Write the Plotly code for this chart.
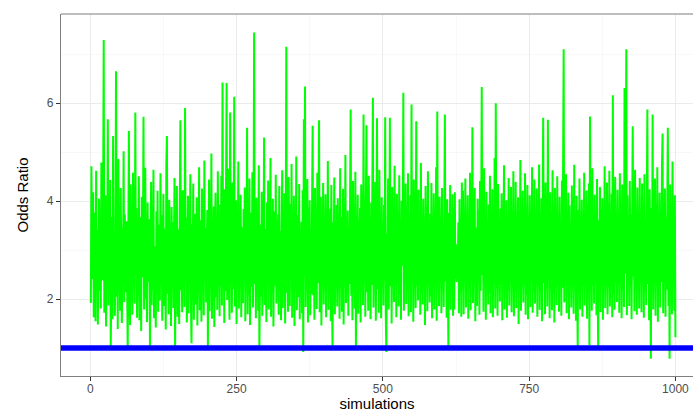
import plotly.graph_objects as go

odds_ratio_rows = [
    [1.92, 4.71, 3.05, 2.41, 4.18, 1.63, 3.77, 2.86, 1.55, 4.62, 2.24, 3.41, 1.48, 2.93, 4.05, 2.17, 3.62, 1.81, 4.79, 2.55],
    [2.38, 3.84, 7.29, 1.72, 2.96, 4.12, 1.44, 3.27, 2.63, 5.67, 1.87, 3.55, 2.21, 4.43, 0.98, 2.79, 3.68, 1.59, 5.33, 2.47],
    [3.12, 1.66, 2.84, 6.65, 2.05, 3.91, 1.39, 4.86, 2.52, 3.18, 1.76, 4.27, 2.69, 1.51, 3.46, 2.31, 5.02, 1.94, 3.73, 2.58],
    [2.14, 3.59, 1.83, 0.98, 3.02, 5.43, 2.36, 1.47, 4.34, 2.75, 3.38, 1.68, 4.58, 2.27, 3.14, 1.91, 5.81, 2.49, 3.86, 1.62],
    [3.25, 2.08, 4.51, 1.57, 2.88, 3.67, 1.35, 4.09, 2.44, 3.22, 5.72, 1.79, 2.67, 4.68, 2.01, 3.49, 1.53, 3.97, 2.35, 2.91],
    [3.63, 1.04, 2.73, 4.39, 1.88, 3.31, 2.19, 4.64, 1.61, 3.08, 2.56, 1.42, 3.79, 2.42, 4.21, 1.74, 2.98, 3.52, 1.97, 4.57],
    [2.29, 3.71, 1.56, 2.82, 4.15, 1.86, 3.44, 2.61, 1.38, 4.74, 5.33, 2.11, 3.36, 1.69, 4.03, 2.53, 3.17, 1.45, 3.88, 2.34],
    [3.57, 1.82, 2.71, 4.47, 0.99, 3.09, 2.26, 4.31, 1.64, 3.42, 2.57, 1.49, 3.95, 5.65, 2.18, 3.28, 1.73, 4.22, 2.45, 3.01],
    [1.84, 5.90, 2.39, 3.66, 1.52, 2.94, 4.11, 1.71, 3.24, 2.48, 4.55, 1.96, 1.10, 3.53, 2.22, 4.36, 1.58, 2.87, 3.74, 1.89],
    [2.64, 4.08, 1.46, 3.35, 2.15, 4.69, 1.77, 2.99, 3.61, 1.54, 4.26, 2.37, 3.13, 1.67, 4.83, 2.51, 3.45, 1.93, 2.76, 3.82],
    [1.03, 2.68, 4.44, 1.75, 3.19, 2.32, 4.97, 1.60, 3.48, 2.12, 3.89, 1.43, 2.85, 4.17, 2.03, 3.56, 1.78, 4.61, 2.43, 3.26],
    [1.65, 3.93, 2.28, 4.52, 1.87, 6.42, 2.59, 3.37, 1.51, 4.24, 2.16, 3.72, 6.41, 1.98, 3.04, 4.66, 2.47, 1.58, 5.81, 2.83],
    [3.51, 1.72, 4.38, 2.21, 3.15, 6.13, 1.85, 2.97, 4.02, 1.49, 3.64, 2.54, 4.81, 1.81, 3.29, 2.36, 4.13, 1.63, 3.47, 2.66],
    [1.92, 3.84, 2.44, 4.28, 1.55, 3.21, 2.73, 5.50, 1.69, 3.58, 2.09, 4.46, 1.47, 2.91, 3.76, 2.25, 4.59, 1.83, 3.11, 7.44],
    [2.31, 3.68, 1.61, 4.07, 2.57, 3.34, 1.76, 4.73, 0.96, 2.89, 3.52, 2.05, 4.19, 1.66, 3.06, 2.48, 5.30, 1.88, 3.43, 2.62],
    [1.53, 3.97, 2.34, 4.42, 1.79, 3.27, 2.71, 4.88, 1.64, 3.61, 2.18, 4.05, 1.44, 2.95, 3.79, 2.27, 4.54, 1.91, 3.18, 2.49],
    [3.73, 1.68, 4.31, 2.23, 3.39, 1.57, 2.92, 4.63, 1.82, 3.55, 2.41, 4.16, 1.50, 3.08, 7.15, 2.13, 3.66, 1.74, 4.49, 2.58],
    [1.86, 3.94, 2.37, 4.76, 1.62, 3.23, 2.69, 4.11, 1.45, 3.47, 2.19, 4.91, 1.77, 2.86, 3.71, 2.04, 4.35, 1.59, 3.32, 2.53],
    [3.58, 1.71, 4.22, 0.92, 5.67, 2.46, 6.34, 1.84, 3.14, 2.63, 4.45, 1.52, 3.87, 2.29, 4.02, 1.67, 3.36, 2.11, 4.71, 5.54],
    [2.08, 3.75, 1.58, 4.27, 2.42, 3.19, 1.80, 4.58, 2.33, 3.49, 5.65, 1.73, 2.94, 4.09, 1.46, 3.62, 2.55, 4.37, 1.89, 3.04],
    [2.61, 4.14, 1.63, 3.41, 2.27, 4.82, 1.78, 3.09, 2.49, 3.85, 1.55, 4.33, 2.17, 1.03, 3.57, 2.72, 4.48, 1.69, 3.24, 2.39],
    [3.92, 1.85, 4.06, 2.52, 3.31, 1.60, 4.67, 2.24, 3.68, 1.74, 2.97, 4.25, 1.48, 3.53, 2.36, 4.94, 1.92, 3.16, 2.58, 3.81],
    [1.66, 3.44, 2.31, 4.19, 5.87, 2.07, 3.73, 1.57, 4.41, 2.45, 3.27, 1.81, 4.60, 1.02, 3.02, 2.64, 4.13, 1.70, 3.59, 2.22],
    [3.86, 1.52, 4.34, 2.56, 3.11, 1.88, 5.77, 2.35, 3.65, 1.64, 4.03, 5.55, 2.14, 3.38, 1.76, 4.52, 2.47, 3.21, 1.59, 3.97],
    [2.29, 4.21, 6.11, 1.83, 3.47, 2.66, 4.39, 1.56, 3.13, 5.69, 2.20, 3.78, 1.72, 4.64, 2.41, 3.29, 1.61, 4.08, 2.53, 3.55],
    [1.87, 3.92, 2.38, 5.71, 1.67, 0.92, 3.34, 2.74, 4.46, 1.79, 3.06, 5.70, 2.26, 3.63, 1.50, 4.29, 2.60, 3.18, 1.94, 4.72],
    [2.43, 3.51, 1.63, 4.15, 2.32, 3.77, 1.85, 4.53, 2.11, 3.39, 1.58, 4.01, 2.68, 3.24, 6.21, 1.76, 3.69, 2.48, 4.36, 1.90],
    [3.27, 2.19, 4.57, 1.65, 3.58, 2.51, 4.12, 1.73, 5.97, 2.34, 3.83, 1.54, 4.44, 2.62, 3.16, 1.82, 5.63, 2.28, 3.71, 1.97],
    [4.23, 2.45, 3.49, 1.68, 4.78, 2.13, 3.35, 1.89, 4.05, 2.57, 3.62, 1.47, 4.31, 2.24, 3.88, 1.75, 4.61, 2.39, 3.12, 1.93],
    [3.74, 2.06, 4.37, 1.61, 3.43, 2.67, 4.16, 1.79, 3.57, 2.30, 4.69, 1.56, 5.83, 2.42, 3.28, 1.86, 4.09, 2.55, 3.66, 1.71],
    [4.27, 2.18, 3.52, 1.84, 4.48, 5.77, 2.36, 3.19, 1.62, 4.04, 2.59, 0.98, 3.76, 2.23, 4.33, 1.78, 3.41, 2.47, 4.14, 1.66],
    [3.86, 1.79, 4.18, 2.41, 3.12, 2.35, 2.97, 2.52, 3.57, 1.71, 4.04, 2.13, 3.65, 1.64, 4.38, 2.22, 4.21, 1.69, 3.83, 2.38],
    [4.46, 1.83, 3.29, 2.54, 4.12, 1.60, 3.67, 2.21, 4.58, 1.77, 3.38, 2.44, 5.51, 1.92, 3.71, 2.31, 4.27, 1.55, 3.46, 2.63],
    [1.86, 4.05, 2.37, 3.81, 1.68, 4.41, 2.17, 3.53, 6.33, 2.49, 3.22, 1.74, 4.67, 2.28, 3.64, 1.58, 4.19, 2.56, 3.37, 1.89],
    [3.93, 2.12, 4.52, 1.71, 3.31, 2.45, 4.24, 1.63, 3.75, 2.34, 4.88, 1.81, 6.00, 2.22, 3.48, 1.66, 4.35, 2.59, 3.14, 1.95],
    [3.85, 2.27, 4.16, 1.57, 3.44, 2.68, 4.73, 1.79, 3.26, 2.41, 4.02, 1.62, 3.69, 2.19, 4.47, 1.87, 3.58, 2.50, 4.29, 1.73],
    [3.18, 2.36, 4.61, 1.65, 3.77, 2.14, 4.39, 1.82, 3.51, 2.57, 4.08, 1.49, 3.34, 2.43, 4.84, 1.76, 3.62, 2.25, 4.21, 1.93],
    [3.46, 2.31, 4.57, 1.68, 3.89, 2.09, 4.33, 1.59, 3.27, 2.63, 4.12, 1.84, 3.71, 2.38, 4.69, 1.72, 3.55, 2.16, 4.44, 1.91],
    [3.39, 2.52, 4.26, 1.64, 3.82, 2.27, 4.75, 1.78, 3.15, 2.46, 4.06, 1.55, 3.67, 5.70, 2.33, 3.94, 1.69, 4.38, 2.21, 3.58],
    [1.85, 5.66, 2.40, 3.73, 1.61, 4.18, 2.54, 3.31, 1.77, 4.63, 2.12, 3.86, 1.52, 4.27, 2.65, 3.42, 1.88, 4.51, 2.29, 3.64],
    [1.74, 4.09, 2.36, 3.57, 1.66, 4.42, 2.23, 3.79, 7.10, 1.93, 3.35, 2.58, 4.55, 1.71, 3.68, 2.44, 4.17, 1.59, 3.91, 2.30],
    [3.46, 1.83, 4.32, 2.61, 3.24, 1.70, 4.74, 2.18, 3.63, 1.56, 4.11, 2.47, 1.02, 3.82, 2.35, 4.46, 1.79, 3.38, 2.66, 4.03],
    [1.64, 3.71, 2.26, 4.58, 1.87, 3.49, 2.42, 4.21, 1.60, 3.95, 2.14, 4.36, 1.06, 5.73, 2.51, 3.33, 1.76, 4.67, 2.28, 3.59],
    [1.91, 4.13, 2.55, 3.77, 1.67, 4.45, 2.20, 0.98, 3.61, 2.39, 4.29, 1.73, 3.84, 2.63, 4.06, 1.58, 3.52, 2.32, 4.71, 1.82],
    [3.43, 2.47, 4.38, 1.69, 3.96, 2.24, 4.62, 1.85, 3.28, 2.57, 4.15, 1.63, 6.16, 2.11, 3.74, 1.78, 4.49, 2.36, 3.58, 1.94],
    [4.23, 2.29, 3.66, 1.72, 4.57, 2.43, 3.89, 1.61, 4.34, 2.18, 3.47, 1.84, 6.31, 2.52, 3.79, 7.10, 1.67, 4.12, 2.38, 3.55],
    [1.86, 4.41, 2.27, 3.72, 1.59, 4.19, 5.53, 2.46, 3.37, 1.75, 4.64, 2.21, 3.83, 1.68, 4.28, 2.59, 3.51, 1.81, 4.47, 2.34],
    [3.64, 1.73, 4.36, 2.49, 3.92, 1.62, 4.55, 2.17, 3.45, 1.88, 4.09, 5.87, 2.31, 3.71, 1.57, 4.24, 2.62, 0.78, 3.86, 2.26],
    [5.77, 1.79, 3.58, 2.41, 4.46, 1.66, 3.95, 2.28, 4.69, 1.54, 3.62, 2.53, 4.17, 1.83, 3.44, 2.35, 4.73, 5.38, 1.71, 3.89],
    [2.44, 4.26, 1.64, 3.67, 2.19, 4.58, 5.50, 1.86, 3.79, 0.78, 4.34, 2.31, 3.96, 1.69, 4.81, 2.47, 3.53, 1.76, 4.12, 1.22],
]
odds_ratio = [v for row in odds_ratio_rows for v in row]
simulations = list(range(1, len(odds_ratio) + 1))
assert len(odds_ratio) == 1000

reference_value = 1
x_ticks = [0, 250, 500, 750, 1000]
y_ticks = [2, 4, 6]
x_title = "simulations"
y_title = "Odds Ratio"

fig = go.Figure()
fig.add_trace(go.Scatter(
    x=simulations, y=odds_ratio, mode="lines",
    line=dict(color="#00FF00", width=2), hoverinfo="skip", showlegend=False,
))
fig.add_shape(type="line", xref="paper", yref="y", x0=0, x1=1,
              y0=reference_value, y1=reference_value,
              line=dict(color="#0000FF", width=5.5), layer="above")
# top border of panel
fig.add_shape(type="line", xref="paper", yref="paper", x0=0, x1=1, y0=1, y1=1,
              line=dict(color="#7F7F7F", width=1.2), layer="above")

axis_font = dict(family="Liberation Sans, Arial, sans-serif", size=12, color="#4D4D4D")
fig.update_layout(
    width=693, height=412,
    margin=dict(l=61, r=0, t=14, b=36),
    paper_bgcolor="white", plot_bgcolor="white",
    font=dict(family="Liberation Sans, Arial, sans-serif"),
    hovermode=False,
    xaxis=dict(
        range=[-50, 1030], tickvals=x_ticks, ticktext=[str(t) for t in x_ticks],
        tickfont=axis_font, ticks="outside", ticklen=4, tickcolor="#333333",
        ticklabelstandoff=-3,
        showgrid=True, gridcolor="#EBEBEB", gridwidth=1.1,
        minor=dict(tick0=125, dtick=250, showgrid=True, gridcolor="#F4F4F4", gridwidth=0.6),
        showline=True, linecolor="#7F7F7F", linewidth=1.2, zeroline=False,
        automargin=False,
        title=dict(text=x_title, font=dict(size=15, color="black"), standoff=4),
    ),
    yaxis=dict(
        range=[0.43, 7.82], tickvals=y_ticks, ticktext=[str(t) for t in y_ticks],
        tickfont=axis_font, ticks="outside", ticklen=4, tickcolor="#333333",
        showgrid=True, gridcolor="#EBEBEB", gridwidth=1.1,
        minor=dict(tick0=1, dtick=2, showgrid=True, gridcolor="#F4F4F4", gridwidth=0.6),
        showline=True, linecolor="#7F7F7F", linewidth=1.2, zeroline=False,
        automargin=False,
        title=dict(text=y_title, font=dict(size=15, color="black"), standoff=14),
    ),
)
fig.write_html(
    "out.html",
    config={"displayModeBar": False, "staticPlot": True},
    post_script="document.body.style.margin='0';document.body.style.overflow='hidden';",
)
